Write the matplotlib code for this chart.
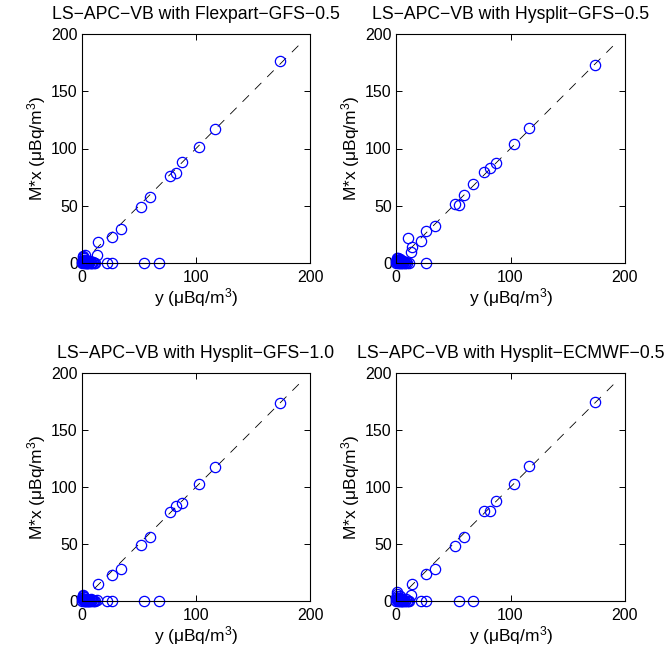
import matplotlib
matplotlib.use('Agg')
import matplotlib.pyplot as plt
import numpy as np

plt.rcParams['font.family'] = ['Liberation Sans', 'DejaVu Sans']
plt.rcParams['mathtext.fontset'] = 'custom'
plt.rcParams['mathtext.rm'] = 'Liberation Sans'
plt.rcParams['mathtext.it'] = 'Liberation Sans:italic'

titles = ['LS\u2212APC\u2212VB with Flexpart\u2212GFS\u22120.5',
          'LS\u2212APC\u2212VB with Hysplit\u2212GFS\u22120.5',
          'LS\u2212APC\u2212VB with Hysplit\u2212GFS\u22121.0',
          'LS\u2212APC\u2212VB with Hysplit\u2212ECMWF\u22120.5']

# observations y (same for every panel)
y_obs = [173.4, 116.4, 103.0, 87.5, 82.5, 77.2, 67.5, 59.4, 54.8, 51.8,
         34.2, 26.6, 26.0, 21.9, 13.7, 13.0, 10.5,
         0.2, 0.4, 0.6, 0.8, 1.0, 1.2, 1.4, 1.6, 1.8, 2.0, 2.2, 2.5, 2.7,
         3.0, 3.2, 3.5, 3.8, 4.2, 4.5, 5.0, 5.2, 5.6, 6.0, 6.5, 7.0, 7.5,
         8.0, 9.0, 10.0, 11.5]

# fitted M*x for each panel
mx_flex_gfs05 = [176.0, 117.3, 101.0, 88.5, 78.6, 75.7, 0.0, 57.4, 0.0, 48.6,
                 29.7, 22.7, 0.0, 0.0, 18.0, 7.3, 0.0,
                 0.0, 1.0, 5.0, 3.0, 6.5, 0.5, 2.0, 4.0, 0.0, 1.5, 7.0, 0.0, 3.0,
                 2.5, 0.0, 1.0, 1.5, 0.0, 0.0, 2.0, 0.5, 0.0, 0.0, 1.0, 2.0, 0.0,
                 0.0, 0.0, 1.0, 0.0]
mx_hys_gfs05 = [173.0, 117.5, 103.5, 87.4, 83.0, 79.5, 69.3, 59.6, 50.3, 51.2,
                32.5, 27.8, 0.0, 19.3, 13.7, 9.4, 21.9,
                0.0, 2.0, 4.0, 1.0, 3.0, 0.5, 0.0, 2.5, 4.5, 1.5, 0.0, 3.0, 0.5,
                1.0, 2.0, 0.0, 3.5, 1.0, 0.0, 2.0, 0.5, 0.0, 1.5, 0.0, 0.5, 0.0,
                0.0, 1.0, 0.0, 0.0]
mx_hys_gfs10 = [174.0, 117.8, 103.0, 86.0, 83.0, 78.0, 0.0, 56.0, 0.0, 49.0,
                28.4, 22.5, 0.0, 0.0, 14.9, 1.0, 0.0,
                0.0, 3.0, 5.0, 4.0, 1.0, 2.0, 0.0, 3.5, 0.5, 1.5, 0.0, 1.0, 0.0,
                2.0, 0.0, 0.5, 1.0, 0.0, 2.0, 0.0, 1.0, 0.0, 0.5, 0.0, 0.0, 1.5,
                0.0, 0.5, 0.0, 0.0]
mx_hys_ecmwf05 = [174.6, 118.0, 103.0, 87.4, 79.0, 79.0, 0.0, 56.4, 0.0, 48.0,
                  28.0, 23.4, 0.0, 0.0, 15.2, 5.0, 0.0,
                  0.0, 3.0, 6.0, 8.0, 1.0, 4.5, 2.0, 0.0, 3.0, 1.0, 0.0, 2.0, 0.5,
                  1.5, 4.0, 0.0, 2.5, 0.0, 1.0, 0.0, 2.0, 0.0, 0.5, 0.0, 1.0, 0.0,
                  0.0, 1.5, 0.0, 0.0]

all_mx = [mx_flex_gfs05, mx_hys_gfs05, mx_hys_gfs10, mx_hys_ecmwf05]

# axes positions in pixels (left, top, right, bottom)
W, H = 667, 660
boxes = [(82, 34, 310, 263), (396, 34, 625, 263),
         (82, 373, 310, 601), (396, 373, 625, 601)]

fig = plt.figure(figsize=(W / 100, H / 100), dpi=100)

for box, ttl, mx in zip(boxes, titles, all_mx):
    l, t, r, b = box
    ax = fig.add_axes([l / W, 1 - b / H, (r - l) / W, (b - t) / H])
    ymax = max(y_obs) * 1.1
    ax.plot([0, ymax], [0, ymax], color='k', lw=0.6, ls=(0, (11, 10)))
    ax.plot(y_obs, mx, 'o', mfc='none', mec='b', ms=7.4, mew=0.9,
            clip_on=False)
    ax.set_xlim(0, 200)
    ax.set_ylim(0, 200)
    ax.set_xticks([0, 100, 200])
    ax.set_yticks([0, 50, 100, 150, 200])
    ax.tick_params(direction='in', top=True, right=True, length=4,
                   width=0.7, labelsize=11.5)
    ax.tick_params(axis='x', pad=5)
    ax.tick_params(axis='y', pad=3)
    for s in ax.spines.values():
        s.set_linewidth(0.8)
    ax.set_title(ttl, fontsize=12.7, pad=11)
    ax.set_xlabel('y (\u03bcBq/m$^3$)', fontsize=12.5, labelpad=1)
    ax.set_ylabel('M*x (\u03bcBq/m$^3$)', fontsize=12.5, labelpad=2)

fig.savefig('out.png', dpi=100)
